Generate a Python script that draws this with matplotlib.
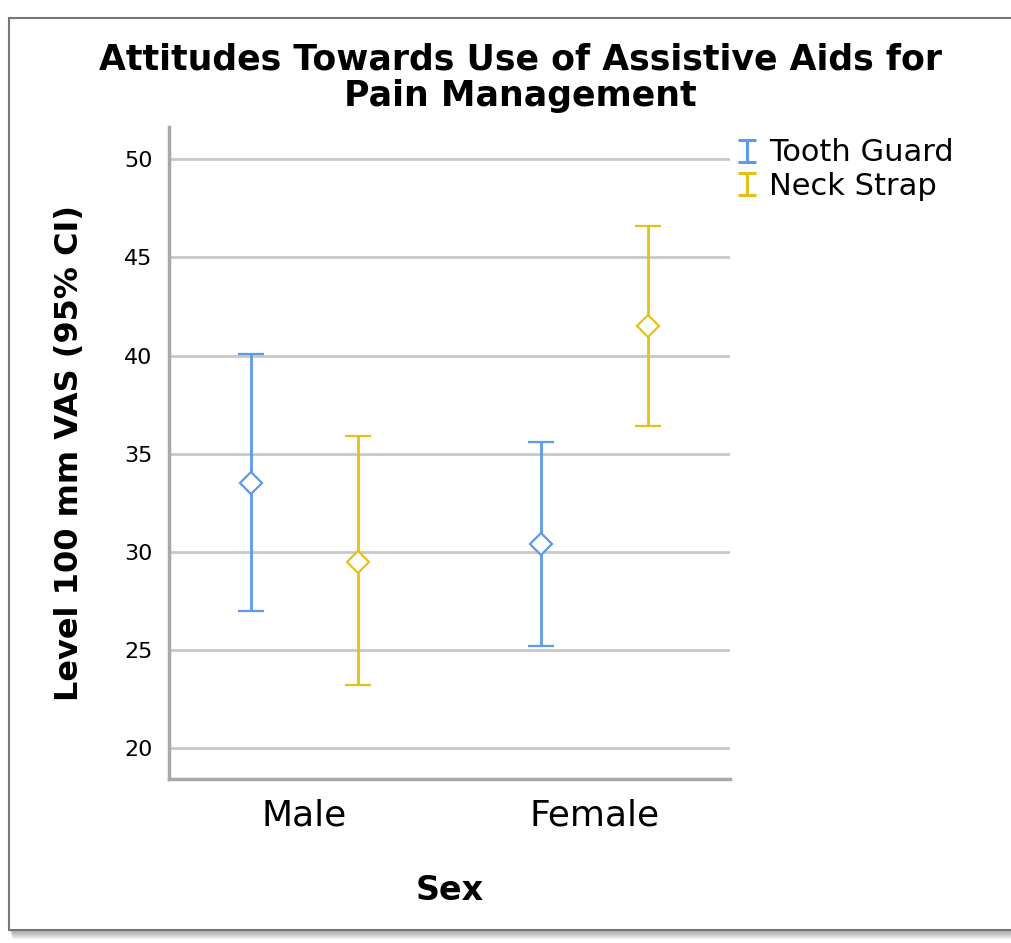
import matplotlib
matplotlib.use("Agg")
import matplotlib.pyplot as plt
import matplotlib.patches as patches
from matplotlib.lines import Line2D
from matplotlib.path import Path
import numpy as np

# data
groups = ["Male", "Female"]
series = ["Tooth Guard", "Neck Strap"]
means = {"Tooth Guard": [33.5, 30.4], "Neck Strap": [29.5, 41.5]}
lower = {"Tooth Guard": [27.0, 25.2], "Neck Strap": [23.2, 36.4]}
upper = {"Tooth Guard": [40.1, 35.6], "Neck Strap": [35.9, 46.6]}
colors = {"Tooth Guard": "#5B9BEA", "Neck Strap": "#E6C01A"}
offsets = {"Tooth Guard": -0.186, "Neck Strap": 0.186}

fig = plt.figure(figsize=(10.11, 9.43), dpi=100)

# outer frame with a soft drop shadow below it
for d in range(1, 10):
    fig.patches.append(patches.Rectangle(((9 + d * 0.4) / 1011, (943 - 930 - d) / 943), 2, (930 - 18) / 943,
                                         transform=fig.transFigure, fc="#707070", ec="none",
                                         alpha=0.09, zorder=0))
frame = patches.Rectangle((9 / 1011, (943 - 930) / 943), 2, (930 - 18) / 943,
                          transform=fig.transFigure, fc="white", ec="#777777", lw=1.5, zorder=0.5)
fig.patches.append(frame)

ax = fig.add_axes([169.3 / 1011, 1 - 779.3 / 943, (730 - 169.3) / 1011, (779.3 - 127.3) / 943])
ax.set_zorder(2)

x = np.arange(1, len(groups) + 1)
for s in series:
    m = np.array(means[s])
    lo = m - np.array(lower[s])
    hi = np.array(upper[s]) - m
    ax.errorbar(x + offsets[s], m, yerr=[lo, hi], fmt="D", color=colors[s],
                mfc="white", mec=colors[s], mew=1.6, ms=11, ecolor=colors[s],
                elinewidth=2.0, capsize=9.7, capthick=2.0, zorder=3)

ax.set_xlim(0.534, 2.467)
ax.set_ylim(18.42, 51.63)
ax.set_yticks([20, 25, 30, 35, 40, 45, 50])
ax.set_xticks(x)
ax.set_xticklabels(groups)
ax.grid(axis="y", color="#c8c8c8", lw=2.0, zorder=1)
ax.set_axisbelow(True)
for side in ["top", "right"]:
    ax.spines[side].set_visible(False)
for side in ["left", "bottom"]:
    ax.spines[side].set_color("#a8a8a8")
    ax.spines[side].set_linewidth(2.5)
ax.tick_params(axis="y", length=0, pad=12, labelsize=16)
ax.tick_params(axis="x", length=0, pad=14, labelsize=26)

ax.set_ylabel("Level 100 mm VAS (95% CI)", fontsize=23, fontweight="bold", labelpad=28)
ax.set_xlabel("Sex", fontsize=24, fontweight="bold", labelpad=30)

fig.text(0.515, 1 - 78 / 943, "Attitudes Towards Use of Assistive Aids for\nPain Management",
         ha="center", va="center", fontsize=25, fontweight="bold", linespacing=1.1)

# I-beam legend icons like the error bars
ibeam = Path([(-0.4, 0.5), (0.4, 0.5), (0, 0.5), (0, -0.5), (-0.4, -0.5), (0.4, -0.5)],
             [Path.MOVETO, Path.LINETO, Path.MOVETO, Path.LINETO, Path.MOVETO, Path.LINETO])
handles = [Line2D([], [], linestyle="None", marker=ibeam, ms=16, mew=2.2,
                  color=colors[s], fillstyle="none") for s in series]
fig.legend(handles=handles, labels=series, loc="upper left",
           bbox_to_anchor=(726 / 1011, 1 - 126 / 943), frameon=False,
           fontsize=22, handlelength=0.6, handletextpad=0.4, labelspacing=0.15,
           borderaxespad=0)

fig.savefig("out.png", dpi=100)
